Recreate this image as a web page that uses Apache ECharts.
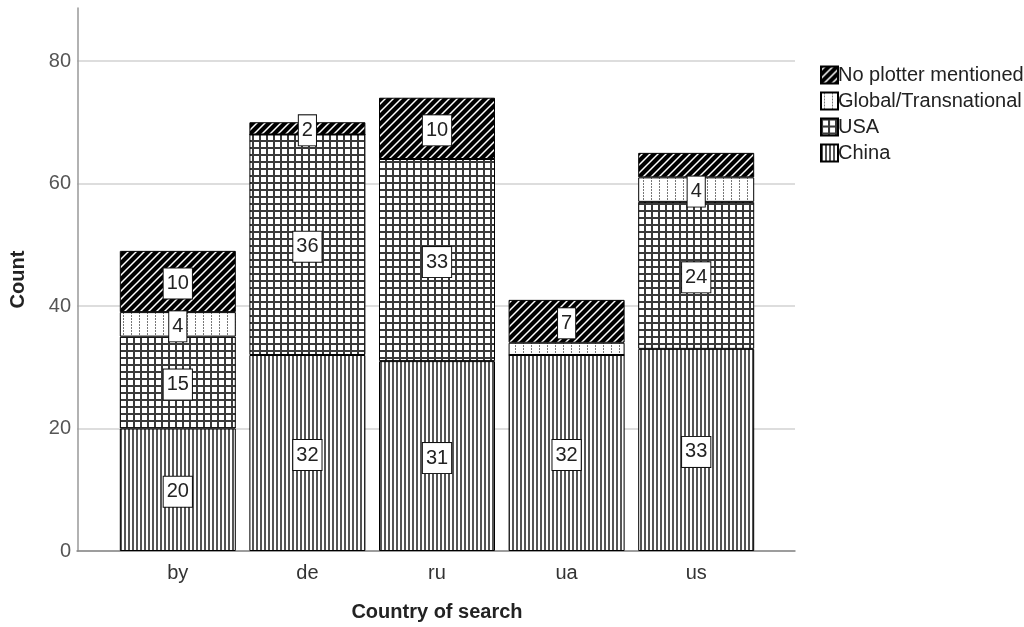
<!DOCTYPE html>
<html><head><meta charset="utf-8">
<script src="https://cdn.jsdelivr.net/npm/echarts@6/dist/echarts.min.js"></script>
<style>html,body{margin:0;padding:0;background:#fff}#c{width:1024px;height:627px}</style>
</head><body><div id="c"></div>
<script>
const categories = ['by', 'de', 'ru', 'ua', 'us'];
const china = [20, 32, 31, 32, 33];
const usa = [15, 36, 33, 0, 24];
const globalT = [4, 0, 0, 2, 4];
const noPlotter = [10, 2, 10, 7, 4];
const yTicks = [0, 20, 40, 60, 80];
// labels not printed in the reference
const hiddenGlobal = ['ua'];
const hiddenNone = ['us'];

function tile(w, h, draw) {
  const c = document.createElement('canvas');
  c.width = w; c.height = h;
  const ctx = c.getContext('2d');
  ctx.fillStyle = '#fff'; ctx.fillRect(0, 0, w, h);
  draw(ctx);
  return { image: c, repeat: 'repeat' };
}
const patChina = tile(4, 2, ctx => { ctx.fillStyle = '#555'; ctx.fillRect(0, 0, 2, 2); });
const patUSA = tile(7, 7, ctx => { ctx.fillStyle = '#3a3a3a'; ctx.fillRect(0, 0, 7, 2); ctx.fillRect(0, 0, 2, 7); });
const patGlobal = tile(8, 3, ctx => { ctx.fillStyle = '#777'; ctx.fillRect(3, 0, 1, 2); });
const patNone = tile(8, 8, ctx => {
  ctx.strokeStyle = '#000'; ctx.lineWidth = 4.2;
  ctx.beginPath();
  ctx.moveTo(-2, 10); ctx.lineTo(10, -2);
  ctx.moveTo(-6, 6); ctx.lineTo(6, -6);
  ctx.moveTo(2, 14); ctx.lineTo(14, 2);
  ctx.stroke();
});

const FONT = '"Liberation Sans", Arial, sans-serif';
const FS = 20;
const yMax = 88.65;

function mkData(arr, hidden) {
  return arr.map((v, i) => {
    const hide = v === 0 || (hidden && hidden.indexOf(categories[i]) >= 0);
    return hide ? { value: v, label: { show: false } } : v;
  });
}
const labelStyle = {
  show: true, position: 'inside', offset: [0, 2], color: '#222', fontSize: FS, fontFamily: FONT, lineHeight: 20,
  backgroundColor: '#fff', borderColor: '#111', borderWidth: 1, padding: [5, 3, 5, 3]
};
function mkSeries(name, arr, pat, hidden) {
  return {
    name, type: 'bar', stack: 'total', xAxisIndex: 2, yAxisIndex: 2, barWidth: 116,
    data: mkData(arr, hidden),
    itemStyle: { color: pat, borderColor: '#000', borderWidth: 1 },
    label: labelStyle, emphasis: { disabled: true }
  };
}

const chart = echarts.init(document.getElementById('c'), null, { renderer: 'canvas' });
chart.setOption({
  animation: false,
  backgroundColor: '#fff',
  textStyle: { fontFamily: FONT },
  grid: [
    { left: 77, right: 229, top: 61, bottom: 76 },
    { left: 77, right: 229, top: 8, bottom: 76 },
    { left: 113, right: 263, top: 8, bottom: 76 }
  ],
  legend: {
    orient: 'vertical', left: 815, top: 60, itemWidth: 17, itemHeight: 17, itemGap: 6,
    icon: 'rect',
    textStyle: { fontSize: FS, lineHeight: 20, color: '#222', fontFamily: FONT, padding: [0, 0, 0, -5] },
    data: ['No plotter mentioned', 'Global/Transnational', 'USA', 'China']
  },
  xAxis: [
    { gridIndex: 0, type: 'value', show: true, axisLine: { show: true, onZero: false, lineStyle: { color: '#888', width: 1.5 } },
      axisLabel: { show: false }, axisTick: { show: false }, splitLine: { show: false } },
    { gridIndex: 1, type: 'value', show: false },
    { gridIndex: 2, type: 'category', data: categories,
      axisLine: { show: false }, axisTick: { show: false },
      axisLabel: { fontSize: FS, color: '#333', margin: 12, fontFamily: FONT },
      name: 'Country of search', nameLocation: 'middle', nameGap: 51,
      nameTextStyle: { fontSize: FS, fontWeight: 'bold', color: '#222', fontFamily: FONT } }
  ],
  yAxis: [
    { gridIndex: 0, type: 'value', min: yTicks[0], max: yTicks[yTicks.length - 1], interval: 20,
      axisLine: { show: false }, axisTick: { show: false },
      axisLabel: { fontSize: FS, color: '#555', margin: 6, fontFamily: FONT },
      splitLine: { show: true, lineStyle: { color: '#d2d2d2', width: 1.5 } } },
    { gridIndex: 1, type: 'value', min: 0, max: yMax,
      axisLine: { show: true, lineStyle: { color: '#999', width: 1.5 } }, axisTick: { show: false },
      axisLabel: { show: false }, splitLine: { show: false },
      name: 'Count', nameLocation: 'middle', nameGap: 50,
      nameTextStyle: { fontSize: FS, fontWeight: 'bold', color: '#222', fontFamily: FONT } },
    { gridIndex: 2, type: 'value', min: 0, max: yMax, show: false, splitLine: { show: false } }
  ],
  series: [
    mkSeries('China', china, patChina),
    mkSeries('USA', usa, patUSA),
    mkSeries('Global/Transnational', globalT, patGlobal, hiddenGlobal),
    mkSeries('No plotter mentioned', noPlotter, patNone, hiddenNone)
  ]
});
</script></body></html>
